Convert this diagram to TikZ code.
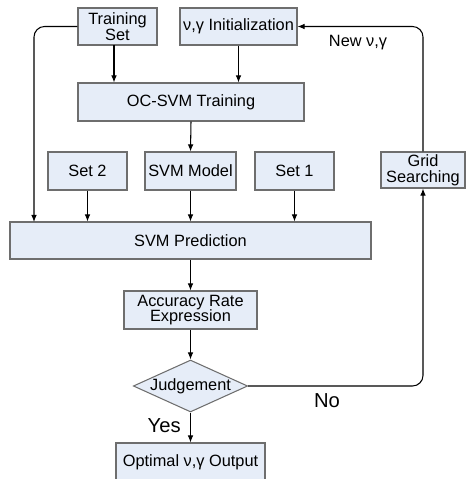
\documentclass[tikz,border=0pt]{standalone}
\usepackage{fontspec}
\setmainfont{Liberation Sans}
\usetikzlibrary{shapes.geometric,arrows.meta}
\definecolor{boxfill}{RGB}{230,237,248}
\definecolor{boxline}{RGB}{110,110,110}
\tikzset{
  box/.style={draw=boxline, fill=boxfill, line width=0.6pt, inner sep=0pt, align=center,
    font=\fontsize{9.3}{9}\selectfont},
  judgebox/.style={box, diamond, aspect=2.2},
  arr/.style={line width=0.6pt, -{Latex[length=4pt,width=3.2pt]}},
  lbl/.style={font=\fontsize{11.5}{13}\selectfont}
}
\begin{document}
\begin{tikzpicture}[x=0.02cm, y=-0.02cm]
\useasboundingbox (0,0) rectangle (467,479);
\node[box, minimum width=79*0.02cm, minimum height=37*0.02cm] (train) at (117.5,26.5) {Training\\Set};
\node[box, minimum width=117*0.02cm, minimum height=37*0.02cm] (init) at (238.5,26.5) {ν,γ Initialization};
\node[box, minimum width=226*0.02cm, minimum height=38*0.02cm] (ocsvm) at (191,102) {OC-SVM Training};
\node[box, minimum width=79*0.02cm, minimum height=38*0.02cm] (set2) at (87.5,171) {Set 2};
\node[box, minimum width=91*0.02cm, minimum height=38*0.02cm] (model) at (190.5,171) {SVM Model};
\node[box, minimum width=79*0.02cm, minimum height=38*0.02cm] (set1) at (294.5,171) {Set 1};
\node[box, minimum width=84*0.02cm, minimum height=36*0.02cm] (grid) at (423,170) {Grid\\Searching};
\node[box, minimum width=361*0.02cm, minimum height=37*0.02cm] (pred) at (190.5,240.5) {SVM Prediction};
\node[box, minimum width=133*0.02cm, minimum height=38*0.02cm] (acc) at (190.5,310) {Accuracy Rate\\Expression};
\node[judgebox, minimum width=111*0.02cm, minimum height=50*0.02cm] (judge) at (190.5,386) {Judgement};
\node[box, minimum width=149*0.02cm, minimum height=38*0.02cm] (opt) at (190.5,462) {Optimal ν,γ Output};
\coordinate (lft) at (34,222);
\coordinate (ts) at (114,45);
\draw[arr] (ts) -- (ts |- ocsvm.north);
\draw[arr] (init.south) -- (init.south |- ocsvm.north);
\draw[arr] (ocsvm.south) -- (model.north);
\draw[arr, rounded corners=6pt] (train.west) -| (lft);
\draw[arr] (set2.south) -- (set2.south |- pred.north);
\draw[arr] (model.south) -- (model.south |- pred.north);
\draw[arr] (set1.south) -- (set1.south |- pred.north);
\draw[arr] (pred.south) -- (acc.north);
\draw[arr] (acc.south) -- (judge.north);
\draw[arr] (judge.south) -- (opt.north) node[lbl, pos=0.45, left=2pt] {Yes};
\draw[arr, rounded corners=6pt] (judge.east) -| (grid.south);
\draw[arr, rounded corners=6pt] (grid.north) |- (init.east);
\node[lbl] (no) at (327,401) {No};
\node[box, draw=none, fill=none] (newpar) at (358,43) {New ν,γ};
\end{tikzpicture}
\end{document}
